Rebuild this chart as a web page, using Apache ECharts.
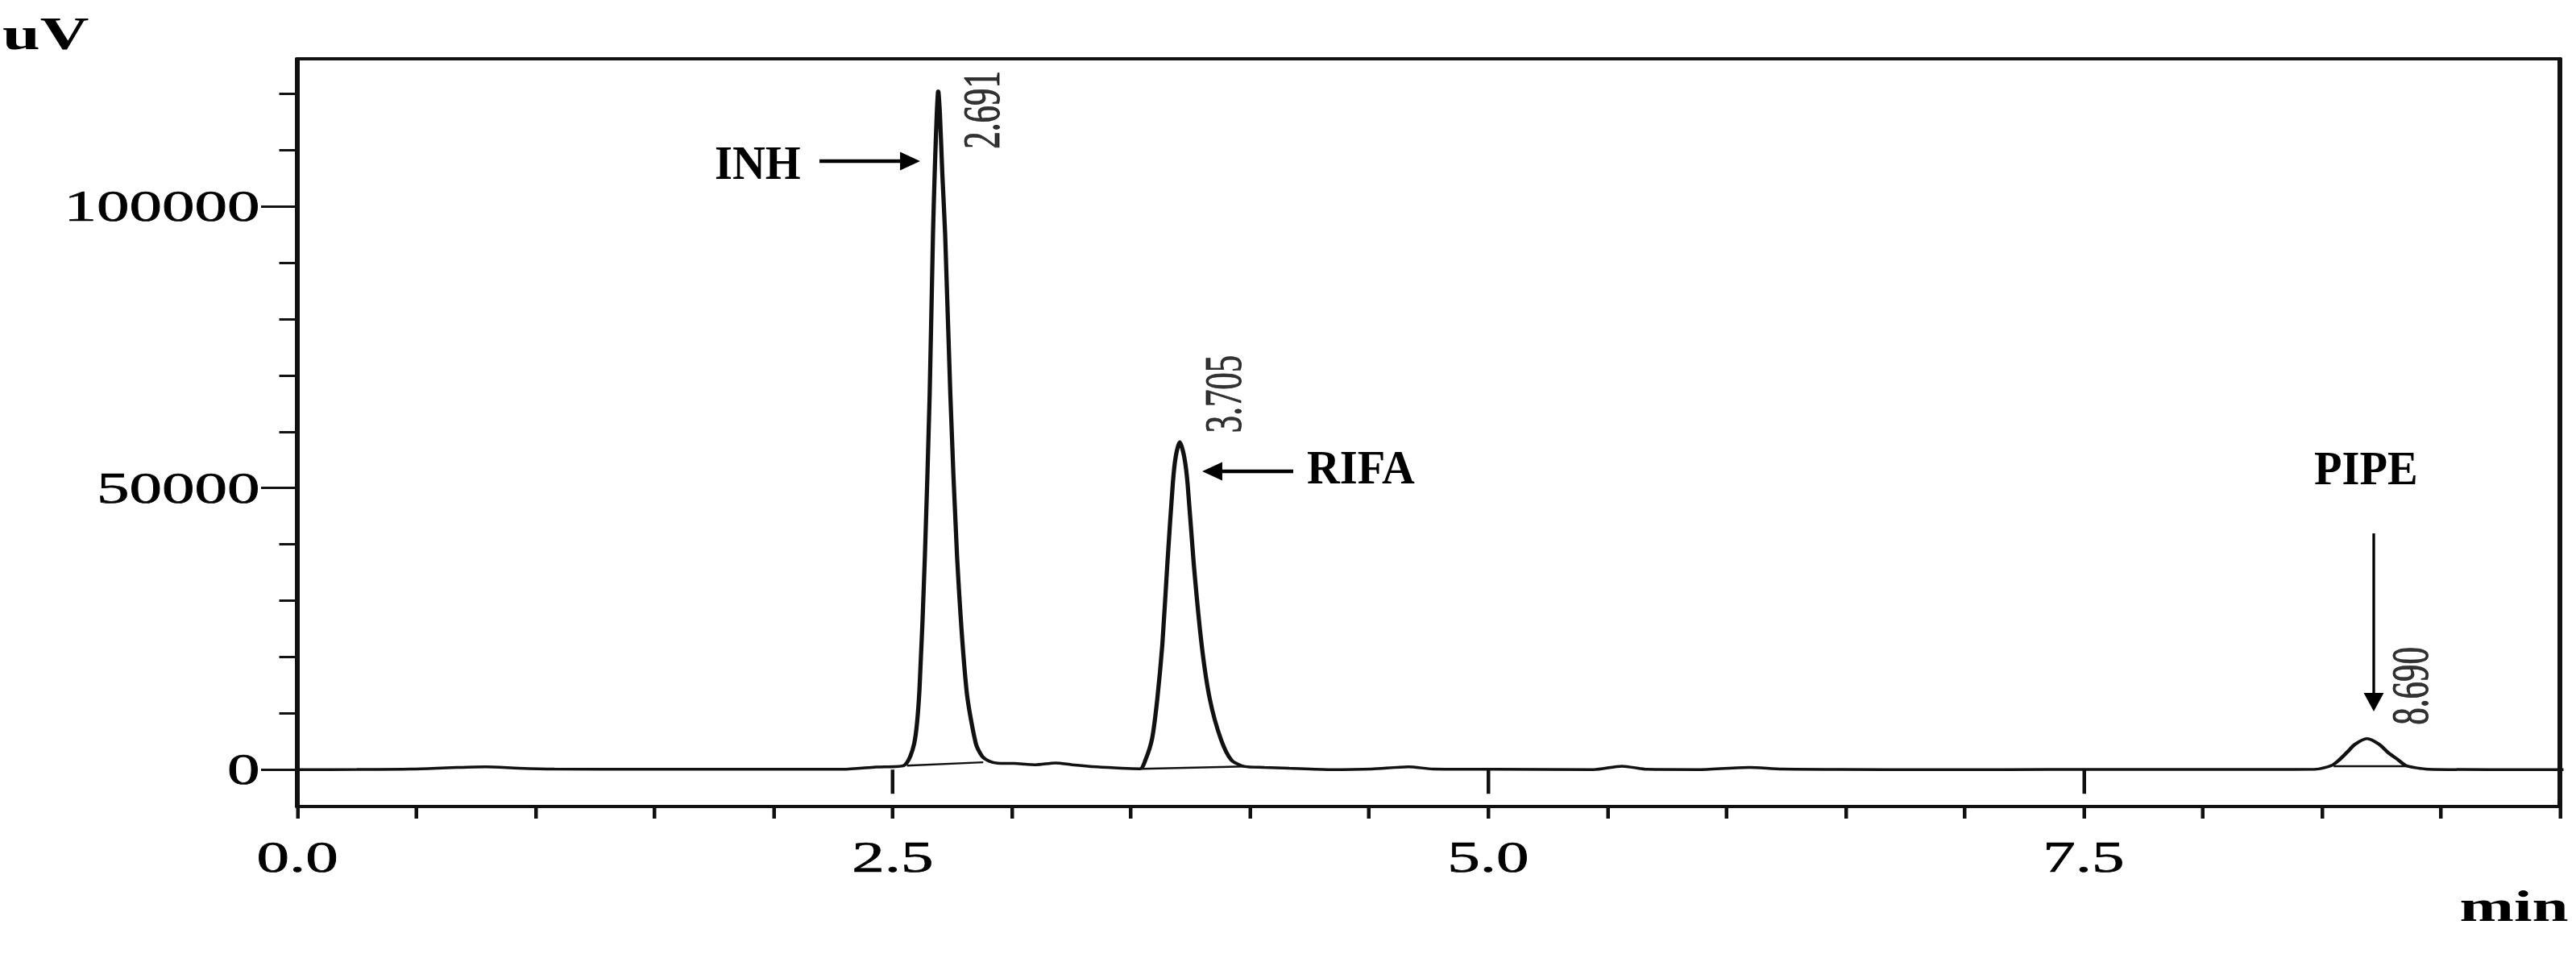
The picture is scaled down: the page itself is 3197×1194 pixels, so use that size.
<!DOCTYPE html>
<html>
<head>
<meta charset="utf-8">
<script src="https://cdn.jsdelivr.net/npm/echarts@6/dist/echarts.min.js"></script>
<style>
html,body{margin:0;padding:0;background:#fff;overflow:hidden;width:3197px;height:1194px}
#chart{width:2132px;height:1194px;transform:scaleX(1.5);transform-origin:0 0}
</style>
</head>
<body>
<div id="chart"></div>
<script>
// ---- data ----
const retentionTime = [0.00,0.25,0.48,0.65,0.79,0.93,1.08,1.46,2.00,2.29,2.43,2.545,2.590,2.612,2.635,2.655,2.669,2.677,2.685,2.691,2.698,2.708,2.720,2.742,2.770,2.810,2.849,2.875,2.905,2.940,3.010,3.100,3.183,3.253,3.356,3.461,3.538,3.561,3.589,3.611,3.632,3.653,3.676,3.688,3.705,3.724,3.738,3.764,3.797,3.831,3.877,3.922,3.978,4.060,4.164,4.337,4.510,4.665,4.769,5.027,5.442,5.562,5.667,5.890,6.097,6.235,6.871,7.500,8.300,8.472,8.540,8.573,8.607,8.640,8.690,8.741,8.777,8.822,8.855,8.946,9.200,9.530];
const signal = [0,20,100,350,500,250,100,50,80,50,450,700,4600,14000,37900,66500,95100,107000,116500,120500,116500,106000,95100,66500,37900,14000,4600,2400,1500,1150,1100,860,1190,860,480,240,150,1700,5500,12600,22200,36500,50800,55500,58200,55500,50800,36500,22200,12600,5500,1700,550,400,240,0,100,500,100,50,0,620,50,0,400,100,0,20,30,50,700,1700,3100,4500,5500,4500,3100,1700,700,80,0,0];

const peakNames = ['INH','RIFA','PIPE'];
const peakTimes = [2.691, 3.705, 8.690];
const peakHeights = [120500, 58200, 5500];

const baselineStartTime = [2.56, 3.544, 8.55];
const baselineStartValue = [700, 150, 600];
const baselineEndTime = [2.88, 3.978, 8.86];
const baselineEndValue = [1300, 550, 600];

const xTickLabels = [0, 2.5, 5.0, 7.5];
const yTickLabels = [0, 50000, 100000];
const yMinorTicks = [0,10000,20000,30000,40000,50000,60000,70000,80000,90000,100000,110000,120000];

// ---- styling / layout ----
const FONT = "'Liberation Serif','Times New Roman',serif";
const LINE = '#111';
const X_MIN = 0, X_MAX = 9.5, Y_MIN = -6550, Y_MAX = 126200;
const XSCALE_TEXT = 0.627; // counter the page stretch for overlay annotations

const chromData = retentionTime.map((t, i) => [t, signal[i]]);

const baselineSeries = baselineStartTime.map((t, i) => ({
  type: 'line', xAxisIndex: 0, yAxisIndex: 0, showSymbol: false, silent: true,
  data: [[t, baselineStartValue[i]], [baselineEndTime[i], baselineEndValue[i]]],
  lineStyle: { color: LINE, width: 2.5 }, z: 3
}));

const labelDy = [72, -11, -17];

const option = {
  animation: false,
  backgroundColor: '#fff',
  grid: { left: 246, right: 14, top: 73, bottom: 193 },
  xAxis: [
    { type: 'value', min: X_MIN, max: X_MAX, interval: 0.5, position: 'bottom',
      axisLine: { show: true, onZero: false, lineStyle: { color: LINE, width: 4 } },
      axisTick: { show: true, length: 15, lineStyle: { color: LINE, width: 3 } },
      axisLabel: { show: true, customValues: xTickLabels, margin: 36, fontFamily: FONT, fontSize: 54, color: '#000',
        textBorderColor: '#000', textBorderWidth: 0.7,
        formatter: v => Number(v).toFixed(1) },
      splitLine: { show: false } },
    { type: 'value', min: X_MIN, max: X_MAX, position: 'bottom',
      axisLine: { show: false },
      axisTick: { show: true, customValues: xTickLabels, length: 30, lineStyle: { color: LINE, width: 3 } },
      axisLabel: { show: false }, splitLine: { show: false } },
    { type: 'value', min: X_MIN, max: X_MAX, position: 'top',
      axisLine: { show: true, onZero: false, lineStyle: { color: LINE, width: 4 } },
      axisTick: { show: false }, axisLabel: { show: false }, splitLine: { show: false } }
  ],
  yAxis: [
    { type: 'value', min: Y_MIN, max: Y_MAX, position: 'left',
      axisLine: { show: true, onZero: false, lineStyle: { color: LINE, width: 4 } },
      axisTick: { show: true, customValues: yMinorTicks, length: 15, lineStyle: { color: LINE, width: 3 } },
      axisLabel: { show: true, customValues: yTickLabels, margin: 31, fontFamily: FONT, fontSize: 54, color: '#000',
        textBorderColor: '#000', textBorderWidth: 0.7,
        formatter: v => String(v) },
      splitLine: { show: false } },
    { type: 'value', min: Y_MIN, max: Y_MAX, position: 'left',
      axisLine: { show: false },
      axisTick: { show: true, customValues: yTickLabels, length: 30, lineStyle: { color: LINE, width: 3 } },
      axisLabel: { show: false }, splitLine: { show: false } },
    { type: 'value', min: Y_MIN, max: Y_MAX, position: 'right',
      axisLine: { show: true, onZero: false, lineStyle: { color: LINE, width: 4 } },
      axisTick: { show: false }, axisLabel: { show: false }, splitLine: { show: false } }
  ],
  series: [
    { type: 'line', name: 'chromatogram', xAxisIndex: 0, yAxisIndex: 0, data: chromData,
      showSymbol: false, smooth: 0.25, clip: false, silent: true,
      lineStyle: { color: LINE, width: 3.5 }, z: 4 },
    ...baselineSeries,
    { type: 'scatter', xAxisIndex: 0, yAxisIndex: 0, silent: true, symbolSize: 0,
      itemStyle: { color: 'transparent' },
      data: peakTimes.map((t, i) => ({ value: [t, peakHeights[i]], label: { position: [36, labelDy[i]] } })),
      label: { show: true, rotate: 90, align: 'left', verticalAlign: 'middle',
        formatter: p => p.value[0].toFixed(3), fontFamily: FONT, fontSize: 43, color: '#000',
        textBorderColor: '#000', textBorderWidth: 0.6 },
      z: 5 }
  ],
  graphic: [
    { type: 'text', x: 2, y: 42, style: { text: 'uV', fontFamily: FONT, fontWeight: 'bold', fontSize: 56, fill: '#000', align: 'left', verticalAlign: 'middle' } },
    { type: 'text', x: 2035, y: 1125, style: { text: 'min', fontFamily: FONT, fontWeight: 'bold', fontSize: 54, fill: '#000', align: 'left', verticalAlign: 'middle' } },
    // INH
    { type: 'text', x: 591.3, y: 202, scaleX: XSCALE_TEXT, style: { text: peakNames[0], fontFamily: FONT, fontWeight: 'bold', fontSize: 60, fill: '#000', align: 'left', verticalAlign: 'middle' } },
    { type: 'line', shape: { x1: 678, y1: 200, x2: 746, y2: 200 }, style: { stroke: '#000', lineWidth: 4.5 } },
    { type: 'polygon', shape: { points: [[744.7, 188.5], [761.3, 200], [744.7, 211.5]] }, style: { fill: '#000' } },
    // RIFA
    { type: 'text', x: 1081.3, y: 580, scaleX: XSCALE_TEXT, style: { text: peakNames[1], fontFamily: FONT, fontWeight: 'bold', fontSize: 60, fill: '#000', align: 'left', verticalAlign: 'middle' } },
    { type: 'line', shape: { x1: 1009, y1: 585, x2: 1070, y2: 585 }, style: { stroke: '#000', lineWidth: 4.5 } },
    { type: 'polygon', shape: { points: [[1011.3, 573.5], [994.7, 585], [1011.3, 596.5]] }, style: { fill: '#000' } },
    // PIPE
    { type: 'text', x: 1914.7, y: 581, scaleX: XSCALE_TEXT, style: { text: peakNames[2], fontFamily: FONT, fontWeight: 'bold', fontSize: 60, fill: '#000', align: 'left', verticalAlign: 'middle' } },
    { type: 'line', shape: { x1: 1964, y1: 662, x2: 1964, y2: 864 }, style: { stroke: '#000', lineWidth: 2.2 } },
    { type: 'polygon', shape: { points: [[1955.7, 860], [1964, 883], [1972.3, 860]] }, style: { fill: '#000' } }
  ]
};

const chart = echarts.init(document.getElementById('chart'), null, { renderer: 'svg' });
chart.setOption(option);
</script>
</body>
</html>
